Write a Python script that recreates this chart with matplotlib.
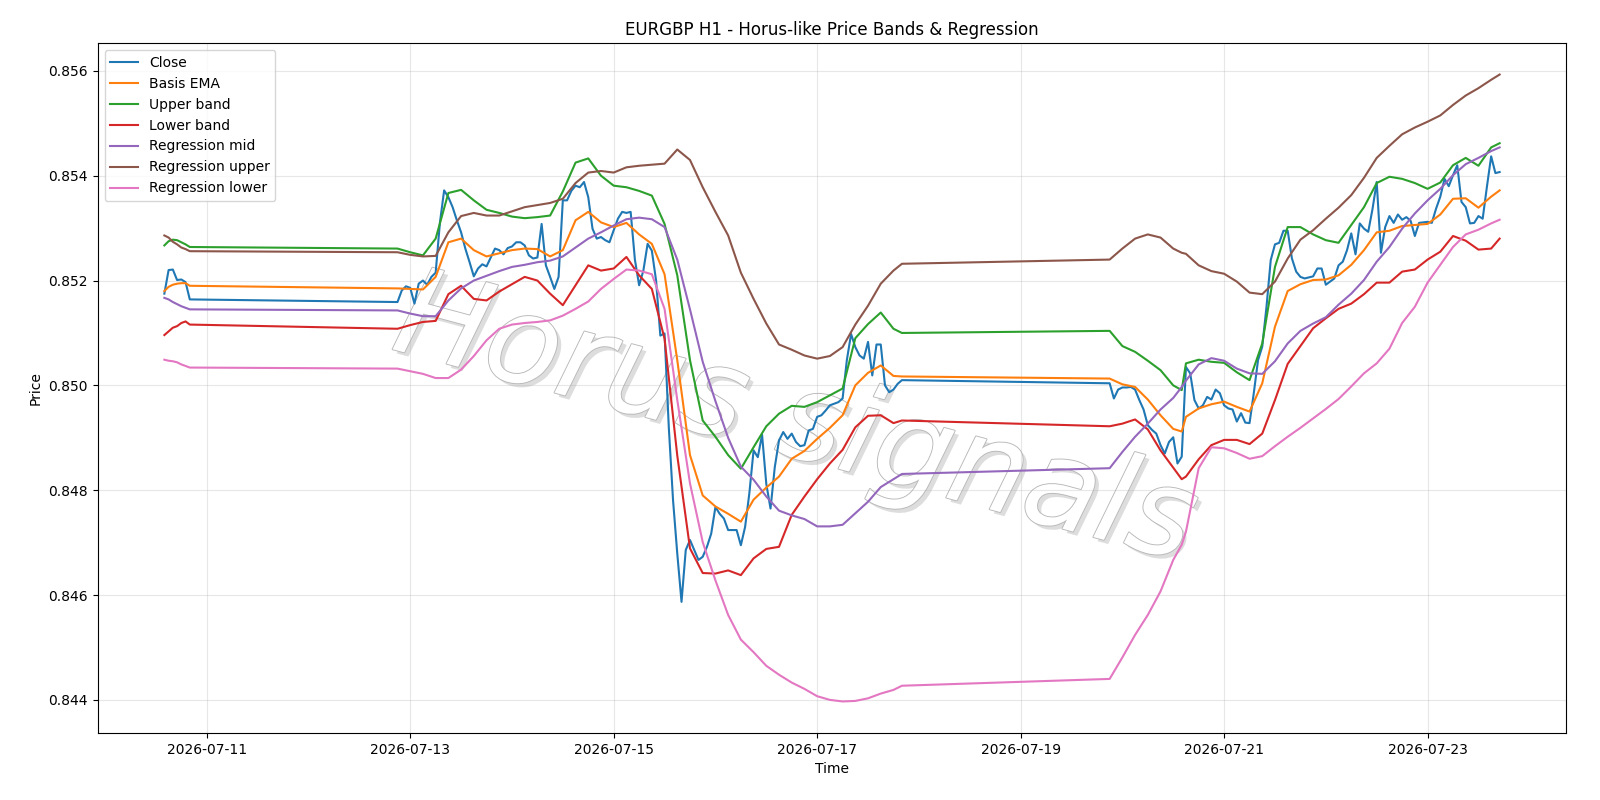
import pandas as pd
import numpy as np
import matplotlib
matplotlib.use('Agg')
import matplotlib.pyplot as plt
import matplotlib.patheffects as pe

# hourly closes, one list per trading session
close_s1_start = '2026-07-10 14:00'
close_s1 = [0.85175, 0.85220, 0.85221, 0.85201, 0.85202, 0.85197, 0.85164]

close_s2_start = '2026-07-12 21:00'
close_s2 = [0.85159, 0.85181, 0.85189, 0.85186, 0.85156, 0.85194, 0.85200, 0.85192, 0.85207, 0.85215,
            0.85310, 0.85372, 0.85359, 0.85340, 0.85315, 0.85292, 0.85261, 0.85235, 0.85208, 0.85223,
            0.85231, 0.85227, 0.85244, 0.85261, 0.85258, 0.85250, 0.85262, 0.85265, 0.85273, 0.85273,
            0.85267, 0.85248, 0.85242, 0.85244, 0.85308, 0.85229, 0.85207, 0.85184, 0.85207, 0.85353,
            0.85353, 0.85371, 0.85381, 0.85378, 0.85388, 0.85359, 0.85299, 0.85280, 0.85283, 0.85277,
            0.85273, 0.85296, 0.85318, 0.85331, 0.85329, 0.85331, 0.85240, 0.85191, 0.85219, 0.85270,
            0.85257, 0.85200, 0.85095, 0.85099, 0.84920, 0.84781, 0.84679, 0.84587, 0.84686, 0.84705,
            0.84686, 0.84667, 0.84673, 0.84692, 0.84717, 0.84768, 0.84755, 0.84746, 0.84724, 0.84724,
            0.84724, 0.84695, 0.84730, 0.84794, 0.84876, 0.84863, 0.84906, 0.84812, 0.84765, 0.84844,
            0.84895, 0.84911, 0.84898, 0.84908, 0.84892, 0.84884, 0.84886, 0.84914, 0.84917, 0.84940,
            0.84943, 0.84952, 0.84962, 0.84965, 0.84968, 0.84975, 0.85048, 0.85098, 0.85073, 0.85057,
            0.85051, 0.85083, 0.85019, 0.85078, 0.85078, 0.85000, 0.84987, 0.84992, 0.85003, 0.85010]

close_s3_start = '2026-07-19 21:00'
close_s3 = [0.85004, 0.84975, 0.84992, 0.84996, 0.84996, 0.84997, 0.84992, 0.84972, 0.84954, 0.84924,
            0.84915, 0.84908, 0.84886, 0.84870, 0.84892, 0.84901, 0.84851, 0.84864, 0.85035, 0.85023,
            0.84972, 0.84956, 0.84962, 0.84978, 0.84973, 0.84992, 0.84985, 0.84962, 0.84956, 0.84954,
            0.84931, 0.84947, 0.84929, 0.84928, 0.84985, 0.85048, 0.85074, 0.85150, 0.85239, 0.85269,
            0.85272, 0.85295, 0.85295, 0.85242, 0.85217, 0.85207, 0.85204, 0.85206, 0.85208, 0.85223,
            0.85223, 0.85192, 0.85198, 0.85204, 0.85229, 0.85236, 0.85258, 0.85290, 0.85250, 0.85309,
            0.85299, 0.85293, 0.85336, 0.85388, 0.85253, 0.85302, 0.85323, 0.85310, 0.85326, 0.85316,
            0.85321, 0.85314, 0.85285, 0.85310, 0.85311, 0.85312, 0.85310, 0.85337, 0.85360, 0.85394,
            0.85380, 0.85401, 0.85420, 0.85350, 0.85340, 0.85309, 0.85310, 0.85323, 0.85318, 0.85379,
            0.85437, 0.85405, 0.85407]

# band / regression values, read every ~3 hours (hours counted from 2026-07-11 00:00)
band_hours = (list(range(-10, -3)) + list(range(45, 163, 3)) + [164]
              + list(range(213, 229, 3)) + [230] + list(range(231, 304, 3)) + [305])

basis_ema = [0.85180, 0.85188, 0.85192, 0.85194, 0.85195, 0.85195, 0.85190,
             0.85185, 0.85184, 0.85183, 0.85207, 0.85273, 0.85280, 0.85258, 0.85246, 0.85252, 0.85258,
             0.85261, 0.85260, 0.85246, 0.85258, 0.85315, 0.85331, 0.85311, 0.85302, 0.85310, 0.85288,
             0.85270, 0.85212, 0.85048, 0.84867, 0.84790, 0.84769, 0.84755, 0.84740, 0.84782, 0.84805,
             0.84826, 0.84860, 0.84875, 0.84898, 0.84919, 0.84943, 0.85000, 0.85024, 0.85038, 0.85018,
             0.85017,
             0.85013, 0.85002, 0.84997, 0.84973, 0.84943, 0.84917, 0.84912, 0.84940, 0.84956, 0.84964,
             0.84969, 0.84959, 0.84950, 0.85004, 0.85112, 0.85180, 0.85193, 0.85201, 0.85202, 0.85210,
             0.85230, 0.85258, 0.85292, 0.85295, 0.85304, 0.85306, 0.85308, 0.85326, 0.85356, 0.85357,
             0.85339, 0.85360, 0.85372]

upper_band = [0.85267, 0.85275, 0.85278, 0.85277, 0.85273, 0.85269, 0.85264,
              0.85261, 0.85254, 0.85248, 0.85280, 0.85367, 0.85373, 0.85353, 0.85335, 0.85329, 0.85322,
              0.85319, 0.85321, 0.85324, 0.85370, 0.85425, 0.85433, 0.85400, 0.85381, 0.85378, 0.85371,
              0.85362, 0.85308, 0.85210, 0.85048, 0.84933, 0.84902, 0.84867, 0.84841, 0.84882, 0.84922,
              0.84946, 0.84961, 0.84959, 0.84968, 0.84981, 0.84994, 0.85090, 0.85117, 0.85139, 0.85108,
              0.85100,
              0.85104, 0.85075, 0.85064, 0.85047, 0.85029, 0.85000, 0.84991, 0.85042, 0.85049, 0.85045,
              0.85043, 0.85025, 0.85010, 0.85080, 0.85226, 0.85302, 0.85302, 0.85288, 0.85277, 0.85272,
              0.85306, 0.85340, 0.85386, 0.85398, 0.85394, 0.85386, 0.85375, 0.85387, 0.85420, 0.85434,
              0.85419, 0.85454, 0.85462]

lower_band = [0.85096, 0.85103, 0.85110, 0.85113, 0.85119, 0.85122, 0.85116,
              0.85108, 0.85115, 0.85121, 0.85123, 0.85174, 0.85190, 0.85165, 0.85162, 0.85179, 0.85193,
              0.85207, 0.85200, 0.85175, 0.85153, 0.85191, 0.85229, 0.85219, 0.85223, 0.85245, 0.85210,
              0.85184, 0.85089, 0.84866, 0.84689, 0.84642, 0.84641, 0.84647, 0.84638, 0.84670, 0.84688,
              0.84692, 0.84753, 0.84788, 0.84821, 0.84851, 0.84877, 0.84920, 0.84942, 0.84943, 0.84928,
              0.84933,
              0.84922, 0.84927, 0.84935, 0.84916, 0.84876, 0.84843, 0.84821, 0.84826, 0.84859, 0.84886,
              0.84896, 0.84896, 0.84888, 0.84908, 0.84972, 0.85041, 0.85075, 0.85109, 0.85128, 0.85146,
              0.85156, 0.85174, 0.85196, 0.85196, 0.85217, 0.85221, 0.85240, 0.85255, 0.85285, 0.85276,
              0.85259, 0.85261, 0.85280]

reg_mid = [0.85167, 0.85164, 0.85159, 0.85155, 0.85151, 0.85148, 0.85145,
           0.85143, 0.85137, 0.85132, 0.85132, 0.85162, 0.85185, 0.85200, 0.85209, 0.85218, 0.85226,
           0.85230, 0.85235, 0.85238, 0.85246, 0.85263, 0.85280, 0.85292, 0.85305, 0.85317, 0.85320,
           0.85317, 0.85302, 0.85240, 0.85145, 0.85045, 0.84970, 0.84900, 0.84845, 0.84820, 0.84788,
           0.84761, 0.84752, 0.84745, 0.84731, 0.84731, 0.84734, 0.84756, 0.84778, 0.84806, 0.84821,
           0.84831,
           0.84842, 0.84873, 0.84902, 0.84927, 0.84954, 0.84976, 0.84997, 0.85009, 0.85040, 0.85052,
           0.85047, 0.85032, 0.85023, 0.85022, 0.85046, 0.85080, 0.85104, 0.85118, 0.85130, 0.85154,
           0.85175, 0.85201, 0.85236, 0.85264, 0.85299, 0.85328, 0.85353, 0.85375, 0.85401, 0.85422,
           0.85434, 0.85447, 0.85454]

reg_upper = [0.85286, 0.85282, 0.85274, 0.85269, 0.85263, 0.85260, 0.85256,
             0.85254, 0.85249, 0.85246, 0.85247, 0.85292, 0.85323, 0.85329, 0.85324, 0.85324, 0.85332,
             0.85340, 0.85344, 0.85348, 0.85356, 0.85386, 0.85406, 0.85409, 0.85406, 0.85416, 0.85419,
             0.85421, 0.85423, 0.85450, 0.85430, 0.85378, 0.85331, 0.85286, 0.85215, 0.85165, 0.85118,
             0.85078, 0.85068, 0.85057, 0.85051, 0.85056, 0.85073, 0.85116, 0.85152, 0.85194, 0.85219,
             0.85232,
             0.85240, 0.85261, 0.85280, 0.85288, 0.85282, 0.85261, 0.85253, 0.85251, 0.85229, 0.85218,
             0.85213, 0.85198, 0.85177, 0.85174, 0.85198, 0.85242, 0.85278, 0.85296, 0.85318, 0.85339,
             0.85363, 0.85396, 0.85434, 0.85457, 0.85479, 0.85492, 0.85503, 0.85515, 0.85535, 0.85553,
             0.85567, 0.85583, 0.85593]

reg_lower = [0.85049, 0.85047, 0.85046, 0.85044, 0.85040, 0.85037, 0.85034,
             0.85032, 0.85027, 0.85022, 0.85014, 0.85014, 0.85030, 0.85056, 0.85086, 0.85108, 0.85116,
             0.85119, 0.85121, 0.85124, 0.85133, 0.85146, 0.85160, 0.85184, 0.85203, 0.85221, 0.85219,
             0.85212, 0.85146, 0.84972, 0.84813, 0.84701, 0.84628, 0.84562, 0.84515, 0.84491, 0.84465,
             0.84448, 0.84433, 0.84421, 0.84407, 0.84400, 0.84397, 0.84398, 0.84403, 0.84412, 0.84419,
             0.84427,
             0.84440, 0.84481, 0.84524, 0.84562, 0.84607, 0.84667, 0.84696, 0.84721, 0.84842, 0.84882,
             0.84880, 0.84871, 0.84860, 0.84865, 0.84884, 0.84902, 0.84919, 0.84937, 0.84955, 0.84974,
             0.84998, 0.85023, 0.85042, 0.85070, 0.85119, 0.85150, 0.85196, 0.85230, 0.85264, 0.85288,
             0.85297, 0.85309, 0.85316]

# time axes
close_time = pd.DatetimeIndex([])
for start, vals in [(close_s1_start, close_s1), (close_s2_start, close_s2), (close_s3_start, close_s3)]:
    close_time = close_time.append(pd.date_range(start, periods=len(vals), freq='h'))
close = close_s1 + close_s2 + close_s3

band_time = pd.Timestamp('2026-07-11 00:00') + pd.to_timedelta(band_hours, unit='h')

fig, ax = plt.subplots(figsize=(16, 8), dpi=100)
ax.plot(close_time, close, label='Close')
ax.plot(band_time, basis_ema, label='Basis EMA')
ax.plot(band_time, upper_band, label='Upper band')
ax.plot(band_time, lower_band, label='Lower band')
ax.plot(band_time, reg_mid, label='Regression mid')
ax.plot(band_time, reg_upper, label='Regression upper')
ax.plot(band_time, reg_lower, label='Regression lower')

# watermark
ax.text(0.475, 0.45, 'Horus signals', transform=ax.transAxes, fontsize=88,
        rotation=-15, style='italic', ha='center', va='center', color='white', zorder=1,
        path_effects=[pe.withSimplePatchShadow(offset=(3, -3), shadow_rgbFace='#a0a0a0', alpha=0.35),
                      pe.Stroke(linewidth=1.3, foreground='#b8b8b8'), pe.Normal()])

ax.set_title('EURGBP H1 - Horus-like Price Bands & Regression')
ax.set_xlabel('Time')
ax.set_ylabel('Price')
ax.grid(True, alpha=0.3)
ax.legend(loc='upper left')
plt.subplots_adjust(left=0.061, right=0.979, top=0.946, bottom=0.084)
plt.savefig('out.png')
